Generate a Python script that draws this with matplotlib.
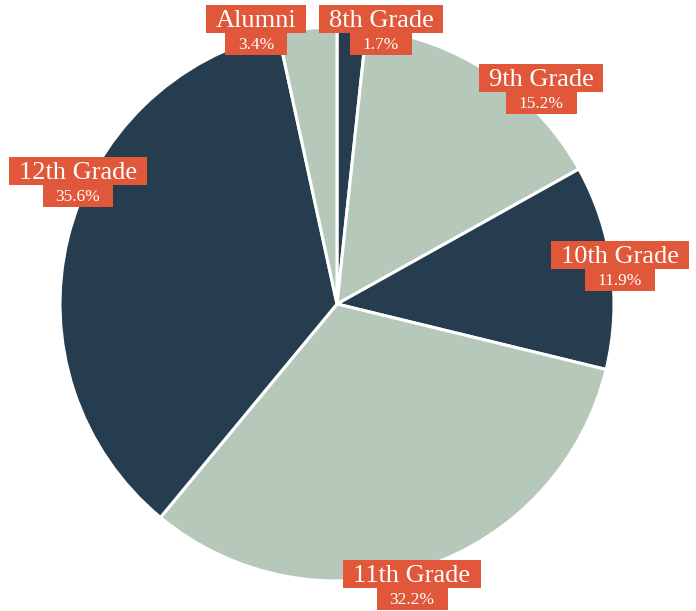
import matplotlib
matplotlib.use('Agg')
import matplotlib.pyplot as plt
from matplotlib.patches import Rectangle

W, H = 696, 611

grades = ['8th Grade', '9th Grade', '10th Grade', '11th Grade', '12th Grade', 'Alumni']
shares = [1.7, 15.2, 11.9, 32.2, 35.6, 3.4]

DARK = '#263d4f'
LIGHT = '#b5c8ba'
RED = '#e0573a'
slice_colors = [DARK, LIGHT, DARK, LIGHT, DARK, LIGHT]

# label box placement in pixels: (centre x, top y measured from the top)
label_pos = {
    '8th Grade': (381, 5),
    '9th Grade': (541, 64),
    '10th Grade': (620, 241),
    '11th Grade': (412, 560),
    '12th Grade': (78, 157),
    'Alumni': (256, 5),
}

fig = plt.figure(figsize=(W / 100, H / 100), dpi=100)
ax = fig.add_axes([0, 0, 1, 1])

ax.pie(shares, colors=slice_colors, startangle=90, counterclock=False,
       center=(337, H - 304), radius=277,
       wedgeprops=dict(edgecolor='white', linewidth=2.2))
ax.set_xlim(0, W)
ax.set_ylim(0, H)
ax.set_aspect('auto')
ax.axis('off')

font = 'Liberation Serif'
name_h, pct_h = 28, 22
texts = []
for g, v in zip(grades, shares):
    cx, top = label_pos[g]
    t1 = ax.text(cx, H - (top + 22), g, ha='center', va='baseline',
                 fontsize=19, color='white', family=font, zorder=5)
    t2 = ax.text(cx, H - (top + name_h + 16), f'{v}%', ha='center', va='baseline',
                 fontsize=12.5, color='white', family=font, zorder=5)
    texts.append((cx, top, t1, t2))

fig.canvas.draw()
r = fig.canvas.get_renderer()
for cx, top, t1, t2 in texts:
    w1 = t1.get_window_extent(r).width + 20
    w2 = t2.get_window_extent(r).width + 26
    ax.add_patch(Rectangle((cx - w1 / 2, H - top - name_h), w1, name_h,
                           facecolor=RED, edgecolor='none', zorder=4))
    ax.add_patch(Rectangle((cx - w2 / 2, H - top - name_h - pct_h), w2, pct_h,
                           facecolor=RED, edgecolor='none', zorder=4))

fig.savefig('out.png', dpi=100)
